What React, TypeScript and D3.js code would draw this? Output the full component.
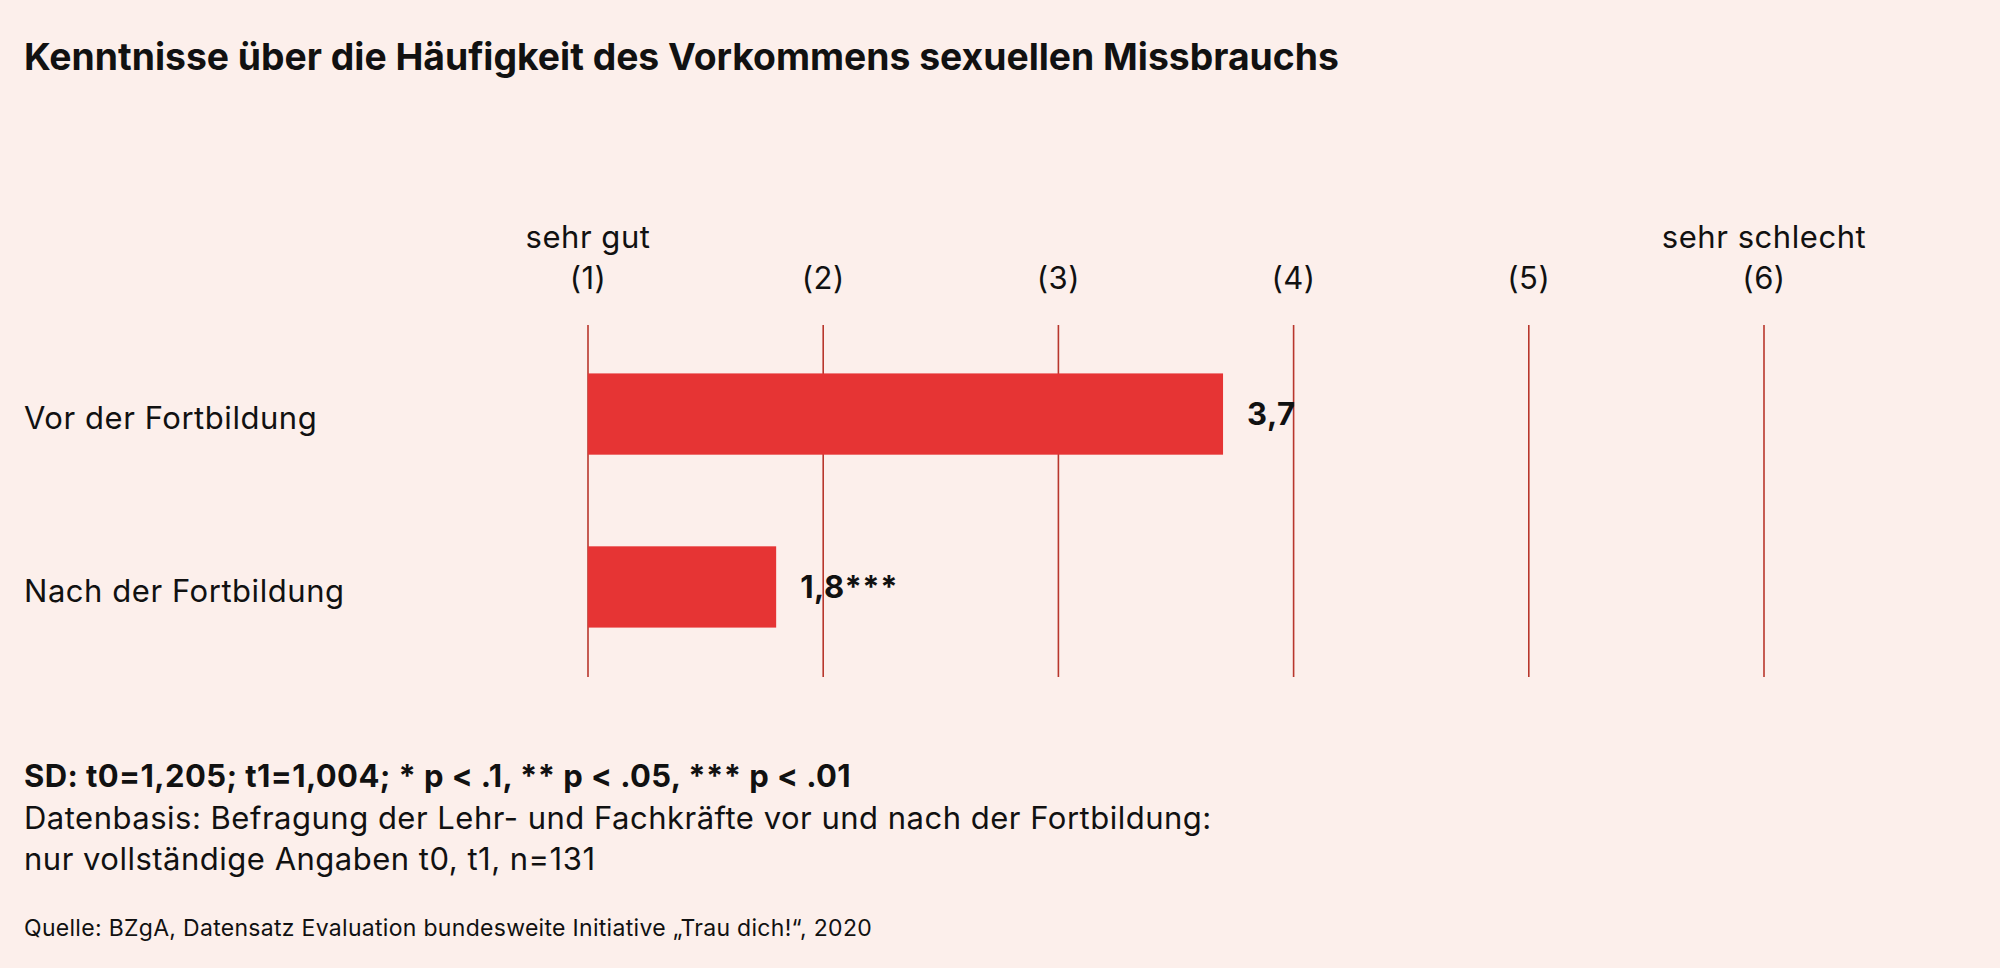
import { useEffect, useRef } from 'react';
import * as d3 from 'd3';

const categories = ['Vor der Fortbildung', 'Nach der Fortbildung'];
const values = [3.7, 1.8];
const valueLabels = ['3,7', '1,8***'];
const ticks = [1, 2, 3, 4, 5, 6];
const tickLabels = ['(1)', '(2)', '(3)', '(4)', '(5)', '(6)'];
const endLabels = [
  { tick: 1, text: 'sehr gut' },
  { tick: 6, text: 'sehr schlecht' }
];

const W = 2000;
const H = 968;
const FONT = 'Inter, "Noto Sans", sans-serif';
const BG = '#fcefeb';
const BAR = '#e63434';
const LINE = '#b8362c';

export default function App() {
  const svgRef = useRef<SVGSVGElement>(null);

  useEffect(() => {
    if (!svgRef.current) return;
    const svg = d3.select(svgRef.current);
    svg.selectAll('*').remove();

    svg.append('rect').attr('width', W).attr('height', H).attr('fill', BG);

    // title
    svg.append('text')
      .attr('x', 24)
      .attr('y', 70)
      .attr('font-family', FONT)
      .attr('font-size', 37.3)
      .attr('font-weight', 700)
      .attr('fill', '#111')
      .text('Kenntnisse über die Häufigkeit des Vorkommens sexuellen Missbrauchs');

    const x = d3.scaleLinear().domain([1, 6]).range([588, 1764]);
    const y = d3.scaleBand()
      .domain(categories)
      .range([325, 676])
      .paddingInner(0.53)
      .paddingOuter(0.28);

    // vertical scale lines
    svg.append('g')
      .selectAll('line')
      .data(ticks)
      .enter()
      .append('line')
      .attr('x1', d => x(d))
      .attr('x2', d => x(d))
      .attr('y1', 325)
      .attr('y2', 677)
      .attr('stroke', LINE)
      .attr('stroke-width', 1.6);

    // tick labels
    svg.append('g')
      .selectAll('text')
      .data(ticks)
      .enter()
      .append('text')
      .attr('x', d => x(d))
      .attr('y', 289)
      .attr('text-anchor', 'middle')
      .attr('font-family', FONT)
      .attr('font-size', 31)
      .attr('letter-spacing', 0.5)
      .attr('fill', '#111')
      .text((d, i) => tickLabels[i]);

    svg.append('g')
      .selectAll('text')
      .data(endLabels)
      .enter()
      .append('text')
      .attr('x', d => x(d.tick))
      .attr('y', 248)
      .attr('text-anchor', 'middle')
      .attr('font-family', FONT)
      .attr('font-size', 31)
      .attr('letter-spacing', 0.55)
      .attr('fill', '#111')
      .text(d => d.text);

    // bars
    const rows = categories.map((c, i) => ({ c, v: values[i], label: valueLabels[i] }));

    svg.append('g')
      .selectAll('rect')
      .data(rows)
      .enter()
      .append('rect')
      .attr('x', x(1))
      .attr('y', d => y(d.c)!)
      .attr('width', d => x(d.v) - x(1))
      .attr('height', y.bandwidth())
      .attr('fill', BAR);

    svg.append('g')
      .selectAll('text')
      .data(rows)
      .enter()
      .append('text')
      .attr('x', d => x(d.v) + 24)
      .attr('y', d => y(d.c)! + y.bandwidth() / 2)
      .attr('dy', '0.35em')
      .attr('font-family', FONT)
      .attr('font-size', 31)
      .attr('font-weight', 700)
      .attr('letter-spacing', 0.5)
      .attr('fill', '#111')
      .text(d => d.label);

    // category labels
    svg.append('g')
      .selectAll('text')
      .data(rows)
      .enter()
      .append('text')
      .attr('x', 24)
      .attr('y', d => y(d.c)! + y.bandwidth() / 2 + 4)
      .attr('dy', '0.35em')
      .attr('font-family', FONT)
      .attr('font-size', 31)
      .attr('letter-spacing', 0.55)
      .attr('fill', '#111')
      .text(d => d.c);

    // footnotes
    const notes = [
      { y: 787, size: 31, weight: 700, ls: 0.4, text: 'SD: t0=1,205; t1=1,004; * p < .1, ** p < .05, *** p < .01' },
      { y: 829, size: 31, weight: 400, ls: 0.5, text: 'Datenbasis: Befragung der Lehr- und Fachkräfte vor und nach der Fortbildung:' },
      { y: 870, size: 31, weight: 400, ls: 0.5, text: 'nur vollständige Angaben t0, t1, n=131' },
      { y: 936, size: 23, weight: 400, ls: 0.3, text: 'Quelle: BZgA, Datensatz Evaluation bundesweite Initiative „Trau dich!“, 2020' }
    ];
    svg.append('g')
      .selectAll('text')
      .data(notes)
      .enter()
      .append('text')
      .attr('x', 24)
      .attr('y', d => d.y)
      .attr('font-family', FONT)
      .attr('font-size', d => d.size)
      .attr('font-weight', d => d.weight)
      .attr('letter-spacing', d => d.ls)
      .attr('fill', '#111')
      .text(d => d.text);
  }, []);

  return (
    <svg
      ref={svgRef}
      width={W}
      height={H}
      viewBox={`0 0 ${W} ${H}`}
      style={{ display: 'block', position: 'absolute', left: 0, top: 0 }}
    />
  );
}
